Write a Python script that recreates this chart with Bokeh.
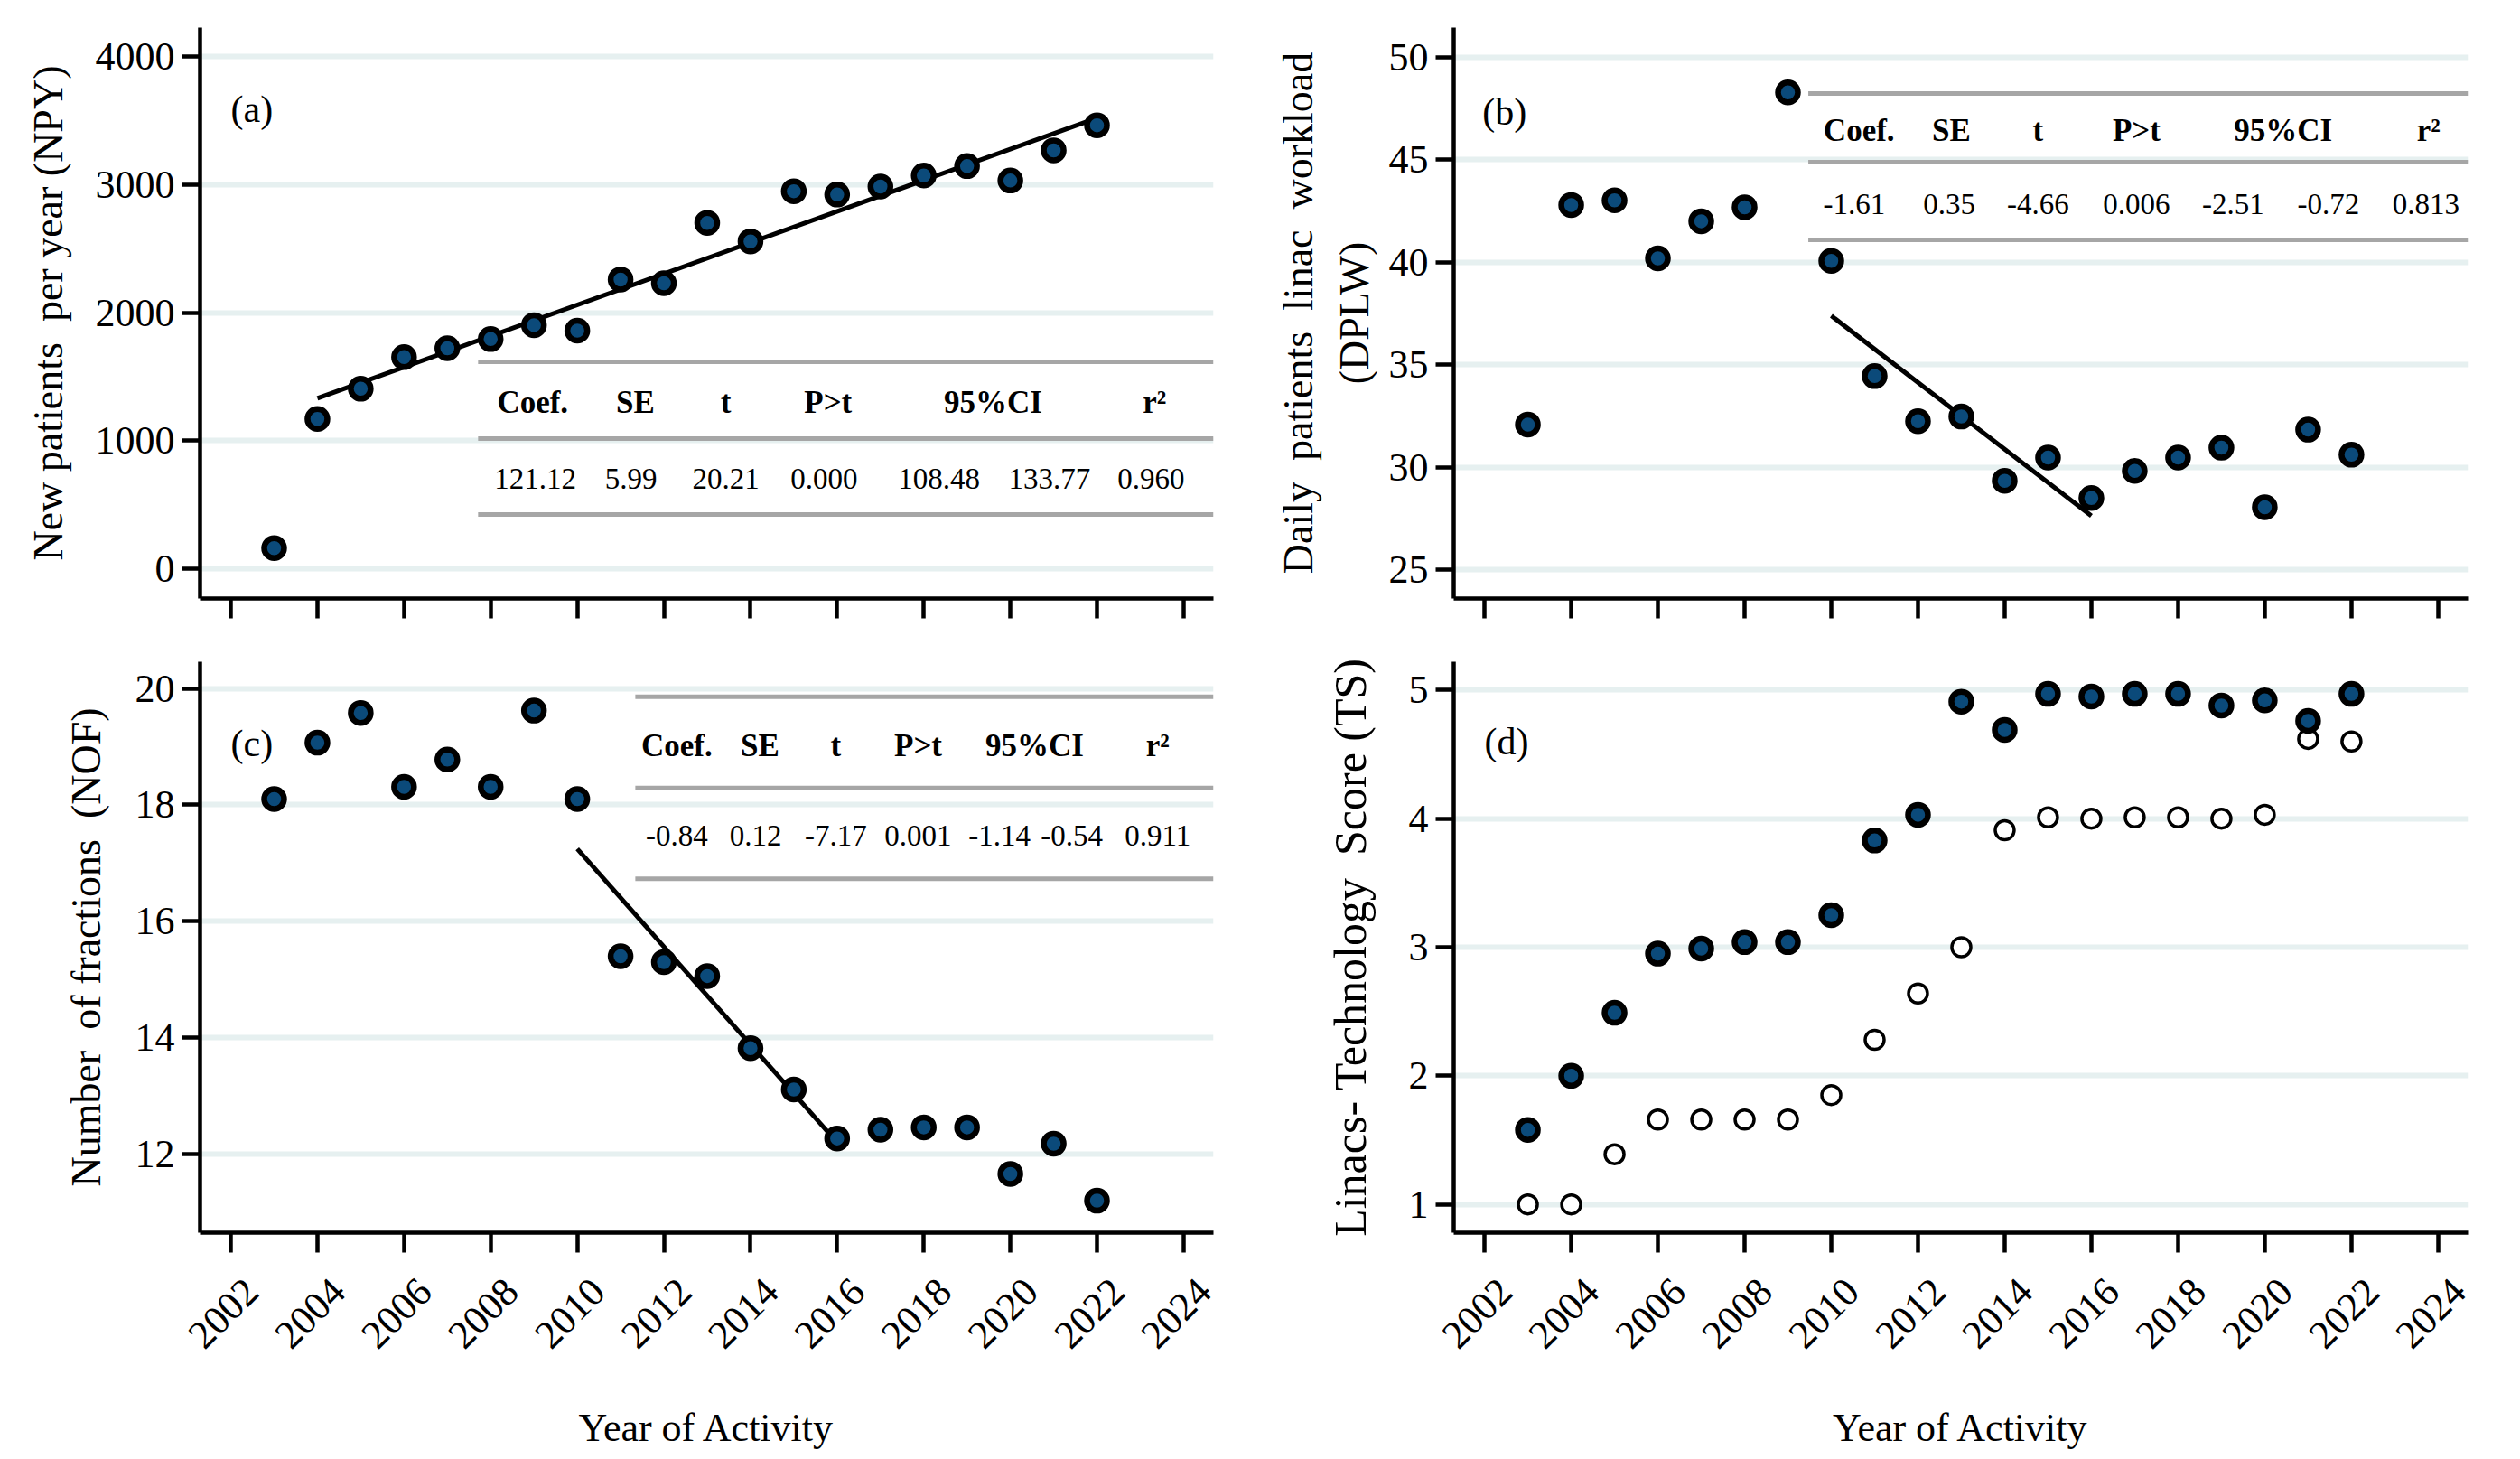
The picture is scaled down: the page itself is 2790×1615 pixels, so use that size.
import numpy as np
from math import pi
from bokeh.plotting import figure
from bokeh.layouts import column, row
from bokeh.models import FixedTicker, Range1d, ColumnDataSource, LinearAxis
from bokeh.embed import file_html
from bokeh.resources import INLINE

# ---------------- data ----------------
years = list(range(2003, 2023))
npy = [160, 1169, 1405, 1652, 1721, 1793, 1902, 1859, 2258, 2229,
       2701, 2556, 2948, 2922, 2984, 3071, 3144, 3031, 3267, 3463]
dplw = [32.09, 42.79, 43.02, 40.19, 42.00, 42.68, 48.28, 40.07, 34.45, 32.25,
        32.48, 29.35, 30.48, 28.51, 29.83, 30.48, 30.96, 28.06, 31.84, 30.62]
nof = [18.10, 19.07, 19.58, 18.31, 18.78, 18.31, 19.62, 18.10, 15.40, 15.30,
       15.06, 13.82, 13.11, 12.27, 12.42, 12.46, 12.46, 11.66, 12.18, 11.20]
ts_filled = [1.58, 2.00, 2.49, 2.95, 2.99, 3.04, 3.04, 3.25, 3.83, 4.03,
             4.91, 4.69, 4.97, 4.95, 4.97, 4.97, 4.88, 4.92, 4.76, 4.97]
ts_open = [1.00, 1.00, 1.39, 1.66, 1.66, 1.66, 1.66, 1.85, 2.28, 2.64,
           3.00, 3.91, 4.01, 4.00, 4.01, 4.01, 4.00, 4.03, 4.62, 4.60]

x_ticks = list(range(2002, 2025, 2))
yticks_a = [0, 1000, 2000, 3000, 4000]
yticks_b = [25, 30, 35, 40, 45, 50]
yticks_c = [12, 14, 16, 18, 20]
yticks_d = [1, 2, 3, 4, 5]

table_header = ["Coef.", "SE", "t", "P>t", "95%CI", "r\u00b2"]
table_a = ["121.12", "5.99", "20.21", "0.000", "108.48", "133.77", "0.960"]
table_b = ["-1.61", "0.35", "-4.66", "0.006", "-2.51", "-0.72", "0.813"]
table_c = ["-0.84", "0.12", "-7.17", "0.001", "-1.14", "-0.54", "0.911"]

fit_a = (2004, 2022)
fit_b = (2010, 2016)
fit_c = (2010, 2016)

# ---------------- style ----------------
FONT = "Liberation Serif"
FILL = "#0b4a7a"
GRID = "#e6f0f0"
TABLE_LINE = "#a6a6a6"
XR = (2001.29, 2024.69)
LABEL_SHIFT = 0.48   # tick labels sit a little right of their ticks


def style_axis(ax):
    ax.axis_line_width = 4.5
    ax.major_tick_line_width = 4.5
    ax.major_tick_in = 0
    ax.minor_tick_line_color = None
    ax.major_label_text_font = FONT
    ax.major_label_text_font_size = "44px"
    ax.major_label_text_color = "black"
    ax.axis_label_text_font = FONT
    ax.axis_label_text_font_style = "normal"
    ax.axis_label_text_color = "black"


def make_fig(yr, yticks, ylabel, bottom, label_standoff, top_border, fw, ylabel_size="46px"):
    p = figure(frame_width=fw, frame_height=632,
               x_range=Range1d(*XR), y_range=Range1d(*yr),
               output_backend="svg", toolbar_location=None,
               min_border_left=221, min_border_right=(45 if fw == 1122 else 32),
               min_border_top=top_border,
               min_border_bottom=(236 if bottom else 46))
    p.outline_line_color = None
    p.background_fill_color = "white"
    p.xgrid.visible = False
    p.ygrid.grid_line_color = GRID
    p.ygrid.grid_line_width = 6
    p.xaxis.ticker = FixedTicker(ticks=x_ticks)
    p.yaxis.ticker = FixedTicker(ticks=yticks)
    style_axis(p.xaxis[0])
    style_axis(p.yaxis[0])
    p.xaxis.major_tick_out = 22
    p.xaxis.major_label_overrides = {t: "" for t in x_ticks}
    p.xaxis.major_label_standoff = 0
    p.yaxis.major_tick_out = 20
    p.yaxis.major_label_standoff = 8
    p.yaxis.axis_label = ylabel
    p.yaxis.axis_label_text_font_size = ylabel_size
    p.yaxis.axis_label_standoff = label_standoff
    if bottom:
        p.extra_x_ranges = {"lab": Range1d(XR[0] - LABEL_SHIFT, XR[1] - LABEL_SHIFT)}
        lab = LinearAxis(x_range_name="lab", ticker=FixedTicker(ticks=x_ticks))
        style_axis(lab)
        lab.axis_line_color = None
        lab.major_tick_line_color = None
        lab.major_tick_out = 0
        lab.major_label_orientation = pi / 4
        lab.major_label_standoff = 36
        lab.axis_label = "Year of Activity"
        lab.axis_label_text_font_size = "44px"
        lab.axis_label_standoff = 48
        p.add_layout(lab, "below")
    return p


def add_points(p, ys, filled=True):
    src = ColumnDataSource(dict(x=years, y=ys))
    if filled:
        p.scatter("x", "y", source=src, size=22, fill_color=FILL,
                  line_color="black", line_width=6.5)
    else:
        p.scatter("x", "y", source=src, size=21, fill_color="white",
                  line_color="black", line_width=3.5)


def add_fit(p, ys, rng):
    xs = np.array(years)
    yv = np.array(ys)
    m = (xs >= rng[0]) & (xs <= rng[1])
    k, b = np.polyfit(xs[m], yv[m], 1)
    fx = [rng[0], rng[1]]
    p.line(fx, [k * fx[0] + b, k * fx[1] + b], line_color="black", line_width=5)


def add_table(p, x0, x1, lines_y, head_y, head_x, val_y, val_x, vals):
    for ly in lines_y:
        p.segment(x0=[x0], y0=[ly], x1=[x1], y1=[ly], line_color=TABLE_LINE, line_width=5)
    p.text(x=head_x, y=[head_y] * len(head_x), text=table_header,
           text_font={"value": FONT}, text_font_size={"value": "35px"},
           text_font_style="bold", text_align="center", text_baseline="middle",
           text_color="black")
    p.text(x=val_x, y=[val_y] * len(val_x), text=vals,
           text_font={"value": FONT}, text_font_size={"value": "33px"},
           text_align="center", text_baseline="middle", text_color="black")


def add_panel_label(p, x, y, s):
    p.text(x=[x], y=[y], text=[s], text_font={"value": FONT},
           text_font_size={"value": "42px"}, text_align="left",
           text_baseline="middle", text_color="black")


NB = "\u00a0"

# ---------------- panel (a) ----------------
pa = make_fig((-233, 4226), yticks_a, "New patients " + NB + "per year (NPY)", False, 24, 30, 1122)
add_fit(pa, npy, fit_a)
add_points(pa, npy)
add_table(pa, 2007.71, 2024.69, [1616, 1016, 423], 1298,
          [2008.97, 2011.34, 2013.43, 2015.79, 2019.60, 2023.33], 705,
          [2009.03, 2011.24, 2013.43, 2015.70, 2018.35, 2020.90, 2023.25], table_a)
add_panel_label(pa, 2002.0, 3584, "(a)")

# ---------------- panel (b) ----------------
pb = make_fig((23.61, 51.44), yticks_b,
              "Daily " + NB + "patients " + NB + "linac " + NB + "workload\n(DPLW)",
              False, 10, 30, 1123)
add_fit(pb, dplw, fit_b)
add_points(pb, dplw)
add_table(pb, 2009.47, 2024.69, [48.23, 44.88, 41.09], 46.42,
          [2010.64, 2012.77, 2014.77, 2017.04, 2020.42, 2023.78], 42.85,
          [2010.53, 2012.72, 2014.77, 2017.04, 2019.27, 2021.47, 2023.72], table_b)
add_panel_label(pb, 2001.95, 47.33, "(b)")

# ---------------- panel (c) ----------------
pc = make_fig((10.65, 20.46), yticks_c, "Number " + NB + "of fractions " + NB + "(NOF)", True, 26, 24, 1122)
add_fit(pc, nof, fit_c)
add_points(pc, nof)
add_table(pc, 2011.34, 2024.69, [19.86, 18.29, 16.73], 19.02,
          [2012.30, 2014.22, 2015.97, 2017.87, 2020.56, 2023.40], 17.47,
          [2012.30, 2014.12, 2015.97, 2017.87, 2019.75, 2021.42, 2023.40], table_c)
add_panel_label(pc, 2002.0, 19.06, "(c)")

# ---------------- panel (d) ----------------
pd_ = make_fig((0.78, 5.22), yticks_d, "Linacs- Technology " + NB + "Score (TS)", True, 34, 24, 1123,
               ylabel_size="50px")
add_points(pd_, ts_open, filled=False)
add_points(pd_, ts_filled, filled=True)
add_panel_label(pd_, 2002.0, 4.6, "(d)")

layout = column(row(pa, pb), row(pc, pd_))
open("out.html", "w").write(file_html(layout, INLINE))
